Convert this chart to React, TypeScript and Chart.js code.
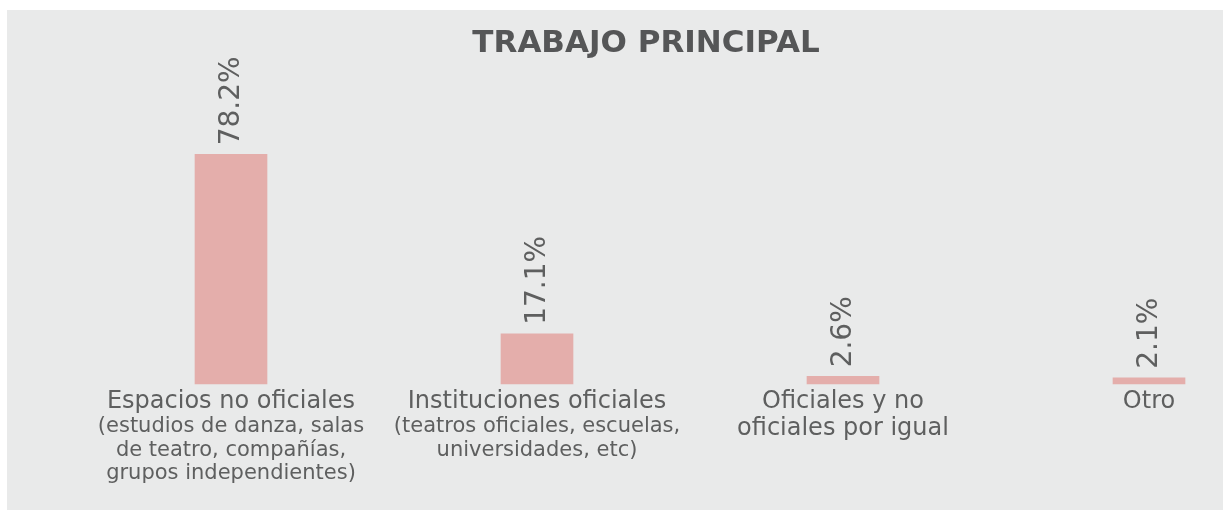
import React, { useEffect, useRef } from "react";
import { Chart, registerables } from "chart.js";

Chart.register(...registerables);

const chartTitle = "TRABAJO PRINCIPAL";
const categories = ["Espacios no oficiales", "Instituciones oficiales", "Oficiales y no oficiales por igual", "Otro"];
const mainLines: string[][] = [
  ["Espacios no oficiales"],
  ["Instituciones oficiales"],
  ["Oficiales y no", "oficiales por igual"],
  ["Otro"],
];
const subLines: string[][] = [
  ["(estudios de danza, salas", "de teatro, compañías,", "grupos independientes)"],
  ["(teatros oficiales, escuelas,", "universidades, etc)"],
  [],
  [],
];
const values = [78.2, 17.1, 2.6, 2.1];
const valueLabels = ["78.2%", "17.1%", "2.6%", "2.1%"];

const FONT = "'DejaVu Sans', sans-serif";
const TEXT = "#5e5f5f";

export default function App() {
  const ref = useRef<HTMLCanvasElement | null>(null);
  useEffect(() => {
    if (!ref.current) return;
    const labelPlugin = {
      id: "customText",
      afterDatasetsDraw(chart: any) {
        const ctx = chart.ctx;
        const meta = chart.getDatasetMeta(0);
        const xScale = chart.scales.x;
        const yScale = chart.scales.y;
        ctx.save();
        // title
        ctx.fillStyle = "#555657";
        ctx.font = `bold 31px ${FONT}`;
        ctx.textAlign = "center";
        ctx.textBaseline = "middle";
        ctx.fillText(chartTitle, 639, 34);
        // value labels
        ctx.fillStyle = TEXT;
        ctx.font = `28px ${FONT}`;
        meta.data.forEach((bar: any, i: number) => {
          ctx.save();
          ctx.translate(bar.x, bar.y - 9);
          ctx.rotate(-Math.PI / 2);
          ctx.textAlign = "left";
          ctx.textBaseline = "middle";
          ctx.fillText(valueLabels[i], 0, 1);
          ctx.restore();
        });
        // category labels
        const base = yScale.getPixelForValue(0);
        categories.forEach((_, i) => {
          const x = xScale.getPixelForValue(i);
          let y = base + 18;
          ctx.textAlign = "center";
          ctx.textBaseline = "middle";
          ctx.font = `24px ${FONT}`;
          mainLines[i].forEach((line, j) => {
            if (j > 0) y += 27;
            ctx.fillText(line, x, y);
          });
          ctx.font = `21px ${FONT}`;
          subLines[i].forEach((line, j) => {
            y += j === 0 ? 25 : 23.5;
            ctx.fillText(line, x, y);
          });
        });
        ctx.restore();
      },
    };
    const chart = new Chart(ref.current, {
      type: "bar",
      data: {
        labels: categories,
        datasets: [
          {
            data: values,
            backgroundColor: "#e4aeab",
            borderWidth: 0,
            barThickness: 72,
            clip: false,
          } as any,
        ],
      },
      options: {
        animation: false,
        responsive: false,
        devicePixelRatio: 1,
        layout: { padding: { left: 224, right: 74, top: 139, bottom: 126 } },
        plugins: { legend: { display: false }, tooltip: { enabled: false }, title: { display: false } },
        scales: {
          x: { display: false, offset: false, grid: { display: false } },
          y: { display: false, min: 0, max: 80 },
        },
      },
      plugins: [labelPlugin],
    });
    return () => chart.destroy();
  }, []);
  return (
    <div style={{ position: "absolute", left: 7, top: 10, width: 1216, height: 500, background: "#e9eaea" }}>
      <canvas ref={ref} width={1216} height={500} style={{ display: "block" }} />
    </div>
  );
}
